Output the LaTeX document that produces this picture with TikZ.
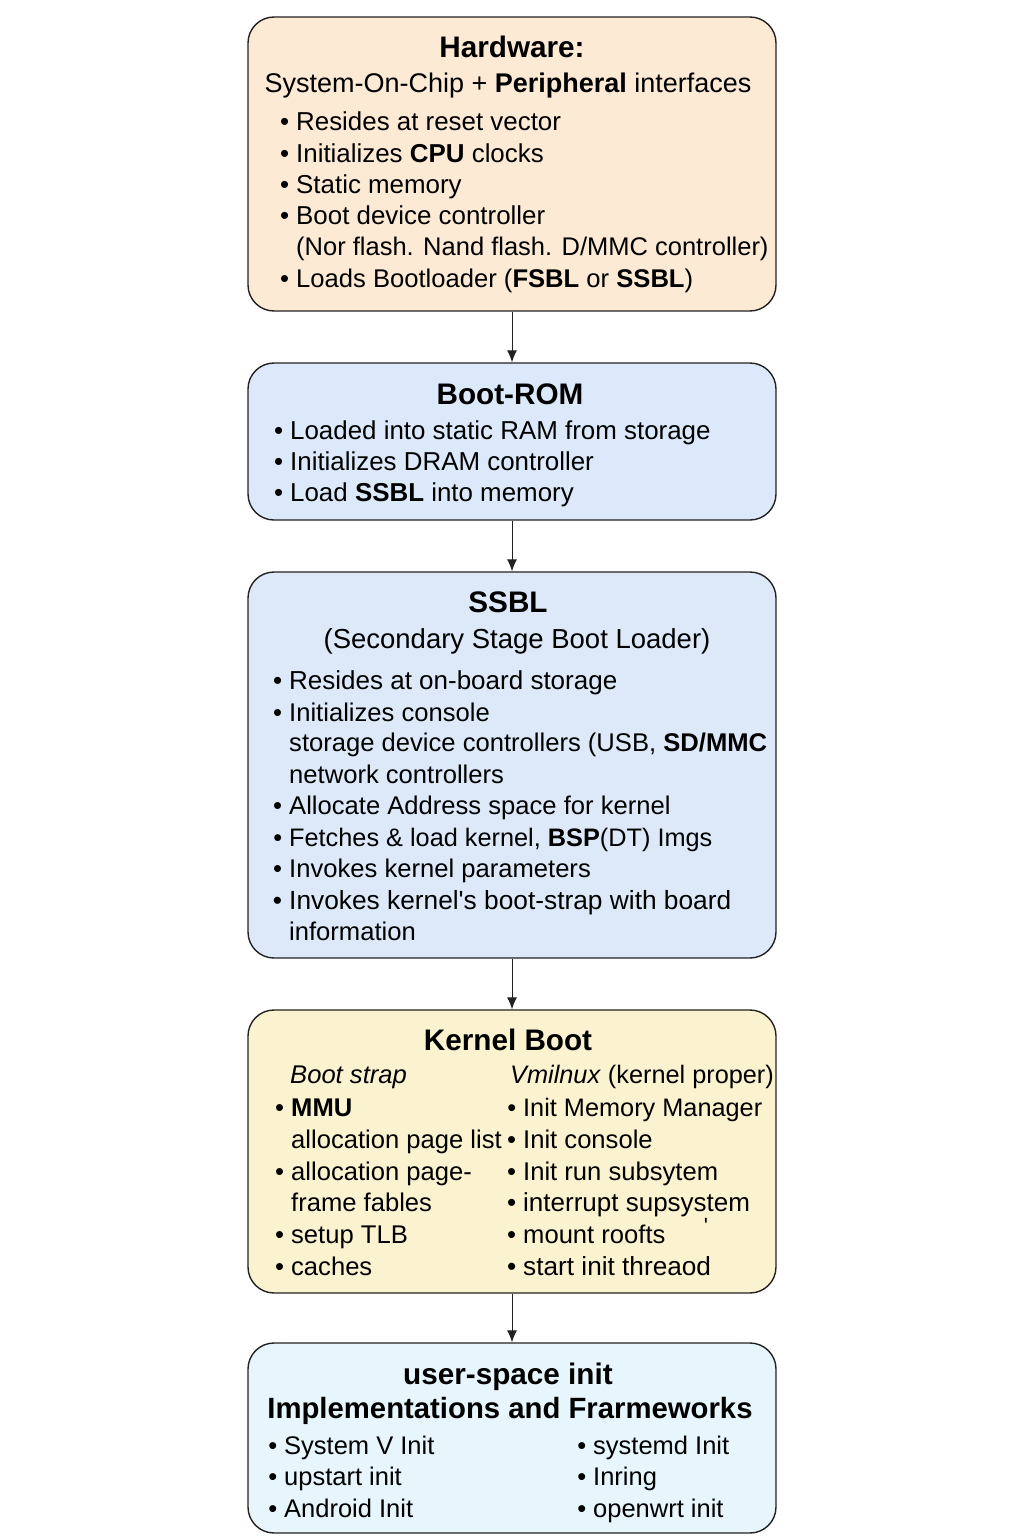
\documentclass[tikz,border=0pt]{standalone}
\usepackage{fontspec}
\setmainfont{Liberation Sans}
\usetikzlibrary{arrows.meta}
\definecolor{hwfill}{HTML}{FCEAD4}
\definecolor{romfill}{HTML}{DCE9FA}
\definecolor{ssblfill}{HTML}{DDE9F9}
\definecolor{kerfill}{HTML}{FBF3D0}
\definecolor{usrfill}{HTML}{E7F5FC}
\definecolor{edge}{HTML}{222222}
\newcommand{\bul}{\llap{\textbullet\hspace{7pt}}}
\tikzset{
  stagebox/.style={draw=edge, line width=1.4pt, rounded corners=26pt, minimum width=528pt, inner sep=0pt},
  ttl/.style={anchor=base, font=\fontsize{29.7}{34}\selectfont\bfseries},
  sub/.style={anchor=base, font=\fontsize{27.5}{31}\selectfont},
  item/.style={anchor=base west, inner sep=0pt, font=\fontsize{25.9}{31}\selectfont},
  sitem/.style={anchor=base west, inner sep=0pt, font=\fontsize{25.6}{31}\selectfont},
  kitem/.style={anchor=base west, inner sep=0pt, font=\fontsize{25.6}{31}\selectfont},
  uitem/.style={anchor=base west, inner sep=0pt, font=\fontsize{25.5}{31}\selectfont},
  arr/.style={draw=edge, line width=1pt, -{Latex[length=12pt,width=10pt]}}
}
\begin{document}
\begin{tikzpicture}[x=1pt,y=-1pt]
\useasboundingbox[fill=white] (0,0) rectangle (1024,1536);
% boxes
\node[stagebox, fill=hwfill, minimum height=294pt] (hw) at (512,164) {};
\node[stagebox, fill=romfill, minimum height=157pt] (rom) at (512,441.5) {};
\node[stagebox, fill=ssblfill, minimum height=386pt] (ssbl) at (512,765) {};
\node[stagebox, fill=kerfill, minimum height=283pt] (ker) at (512,1151.5) {};
\node[stagebox, fill=usrfill, minimum height=190pt] (usr) at (512,1438) {};
% connectors
\draw[arr] (hw.south) -- (rom.north);
\draw[arr] (rom.south) -- (ssbl.north);
\draw[arr] (ssbl.south) -- (ker.north);
\draw[arr] (ker.south) -- (usr.north);
% Hardware
\node[ttl] (hwt) at (512,58) {Hardware:};
\node[sub, font=\fontsize{27}{31}\selectfont] (hws) at (508,93) {System-On-Chip + \textbf{Peripheral} interfaces};
\node[item] (hw1) at (296,131) {\bul Resides at reset vector};
\node[item] (hw2) at (296,162) {\bul Initializes \textbf{CPU} clocks};
\node[item] (hw3) at (296,193) {\bul Static memory};
\node[item] (hw4) at (296,224) {\bul Boot device controller};
\node[item, font=\fontsize{25.5}{31}\selectfont] (hw5) at (296,255) {(Nor flash. Nand flash. D/MMC controller)};
\node[item, font=\fontsize{25.6}{31}\selectfont] (hw6) at (296,287) {\bul Loads Bootloader (\textbf{FSBL} or \textbf{SSBL})};
% Boot-ROM
\node[ttl] (romt) at (510,404) {Boot-ROM};
\node[item] (rom1) at (290,439) {\bul Loaded into static RAM from storage};
\node[item] (rom2) at (290,470) {\bul Initializes DRAM controller};
\node[item] (rom3) at (290,501) {\bul Load \textbf{SSBL} into memory};
% SSBL
\node[ttl] (ssblt) at (508,612) {SSBL};
\node[sub] (ssbls) at (517,648) {(Secondary Stage Boot Loader)};
\node[sitem, font=\fontsize{26}{31}\selectfont] (s1) at (289,689) {\bul Resides at on-board storage};
\node[sitem] (s2) at (289,721) {\bul Initializes console};
\node[sitem] (s3) at (289,751) {storage device controllers (USB, \textbf{SD/MMC}};
\node[sitem] (s4) at (289,783) {network controllers};
\node[sitem] (s5) at (289,814) {\bul Allocate Address space for kernel};
\node[sitem, font=\fontsize{25.3}{31}\selectfont] (s6) at (289,846) {\bul Fetches \& load kernel, \textbf{BSP}(DT) Imgs};
\node[sitem] (s7) at (289,877) {\bul Invokes kernel parameters};
\node[sitem, font=\fontsize{26.3}{31}\selectfont] (s8) at (289,909) {\bul Invokes kernel\textquotesingle s boot-strap with board};
\node[sitem] (s9) at (289,940) {information};
% Kernel Boot
\node[ttl] (kert) at (508,1050) {Kernel Boot};
\node[kitem] (kl0) at (290,1083) {\itshape Boot strap};
\node[kitem, font=\fontsize{25.3}{31}\selectfont] (kr0) at (510,1083) {\textit{Vmilnux} (kernel proper)};
\node[kitem] (kl1) at (291,1116) {\bul \textbf{MMU}};
\node[kitem] (kl2) at (291,1148) {allocation page list};
\node[kitem] (kl3) at (291,1180) {\bul allocation page-};
\node[kitem] (kl4) at (291,1211) {frame fables};
\node[kitem] (kl5) at (291,1243) {\bul setup TLB};
\node[kitem] (kl6) at (291,1275) {\bul caches};
\node[kitem, font=\fontsize{25.3}{31}\selectfont] (kr1) at (523,1116) {\bul Init Memory Manager};
\node[kitem] (kr2) at (523,1148) {\bul Init console};
\node[kitem] (kr3) at (523,1180) {\bul Init run subsytem};
\node[kitem, font=\fontsize{26}{31}\selectfont] (kr4) at (523,1211) {\bul interrupt supsystem};
\node[kitem] (kr5) at (523,1243) {\bul mount roofts};
\node[kitem, font=\fontsize{26.2}{31}\selectfont] (kr6) at (523,1275) {\bul start init threaod};
\node[font=\fontsize{22}{24}\selectfont, inner sep=0pt, anchor=base] (tick) at (706,1233) {\textquotesingle};
% user-space init
\node[ttl] (usrt) at (508,1384) {user-space init};
\node[ttl, font=\fontsize{29.3}{34}\selectfont\bfseries] (usrs) at (510,1418) {Implementations and Frarmeworks};
\node[uitem] (u1) at (284,1454) {\bul System V Init};
\node[uitem] (u2) at (284,1485) {\bul upstart init};
\node[uitem] (u3) at (284,1517) {\bul Android Init};
\node[uitem] (u4) at (593,1454) {\bul systemd Init};
\node[uitem] (u5) at (593,1485) {\bul Inring};
\node[uitem] (u6) at (593,1517) {\bul openwrt init};
\end{tikzpicture}
\end{document}
